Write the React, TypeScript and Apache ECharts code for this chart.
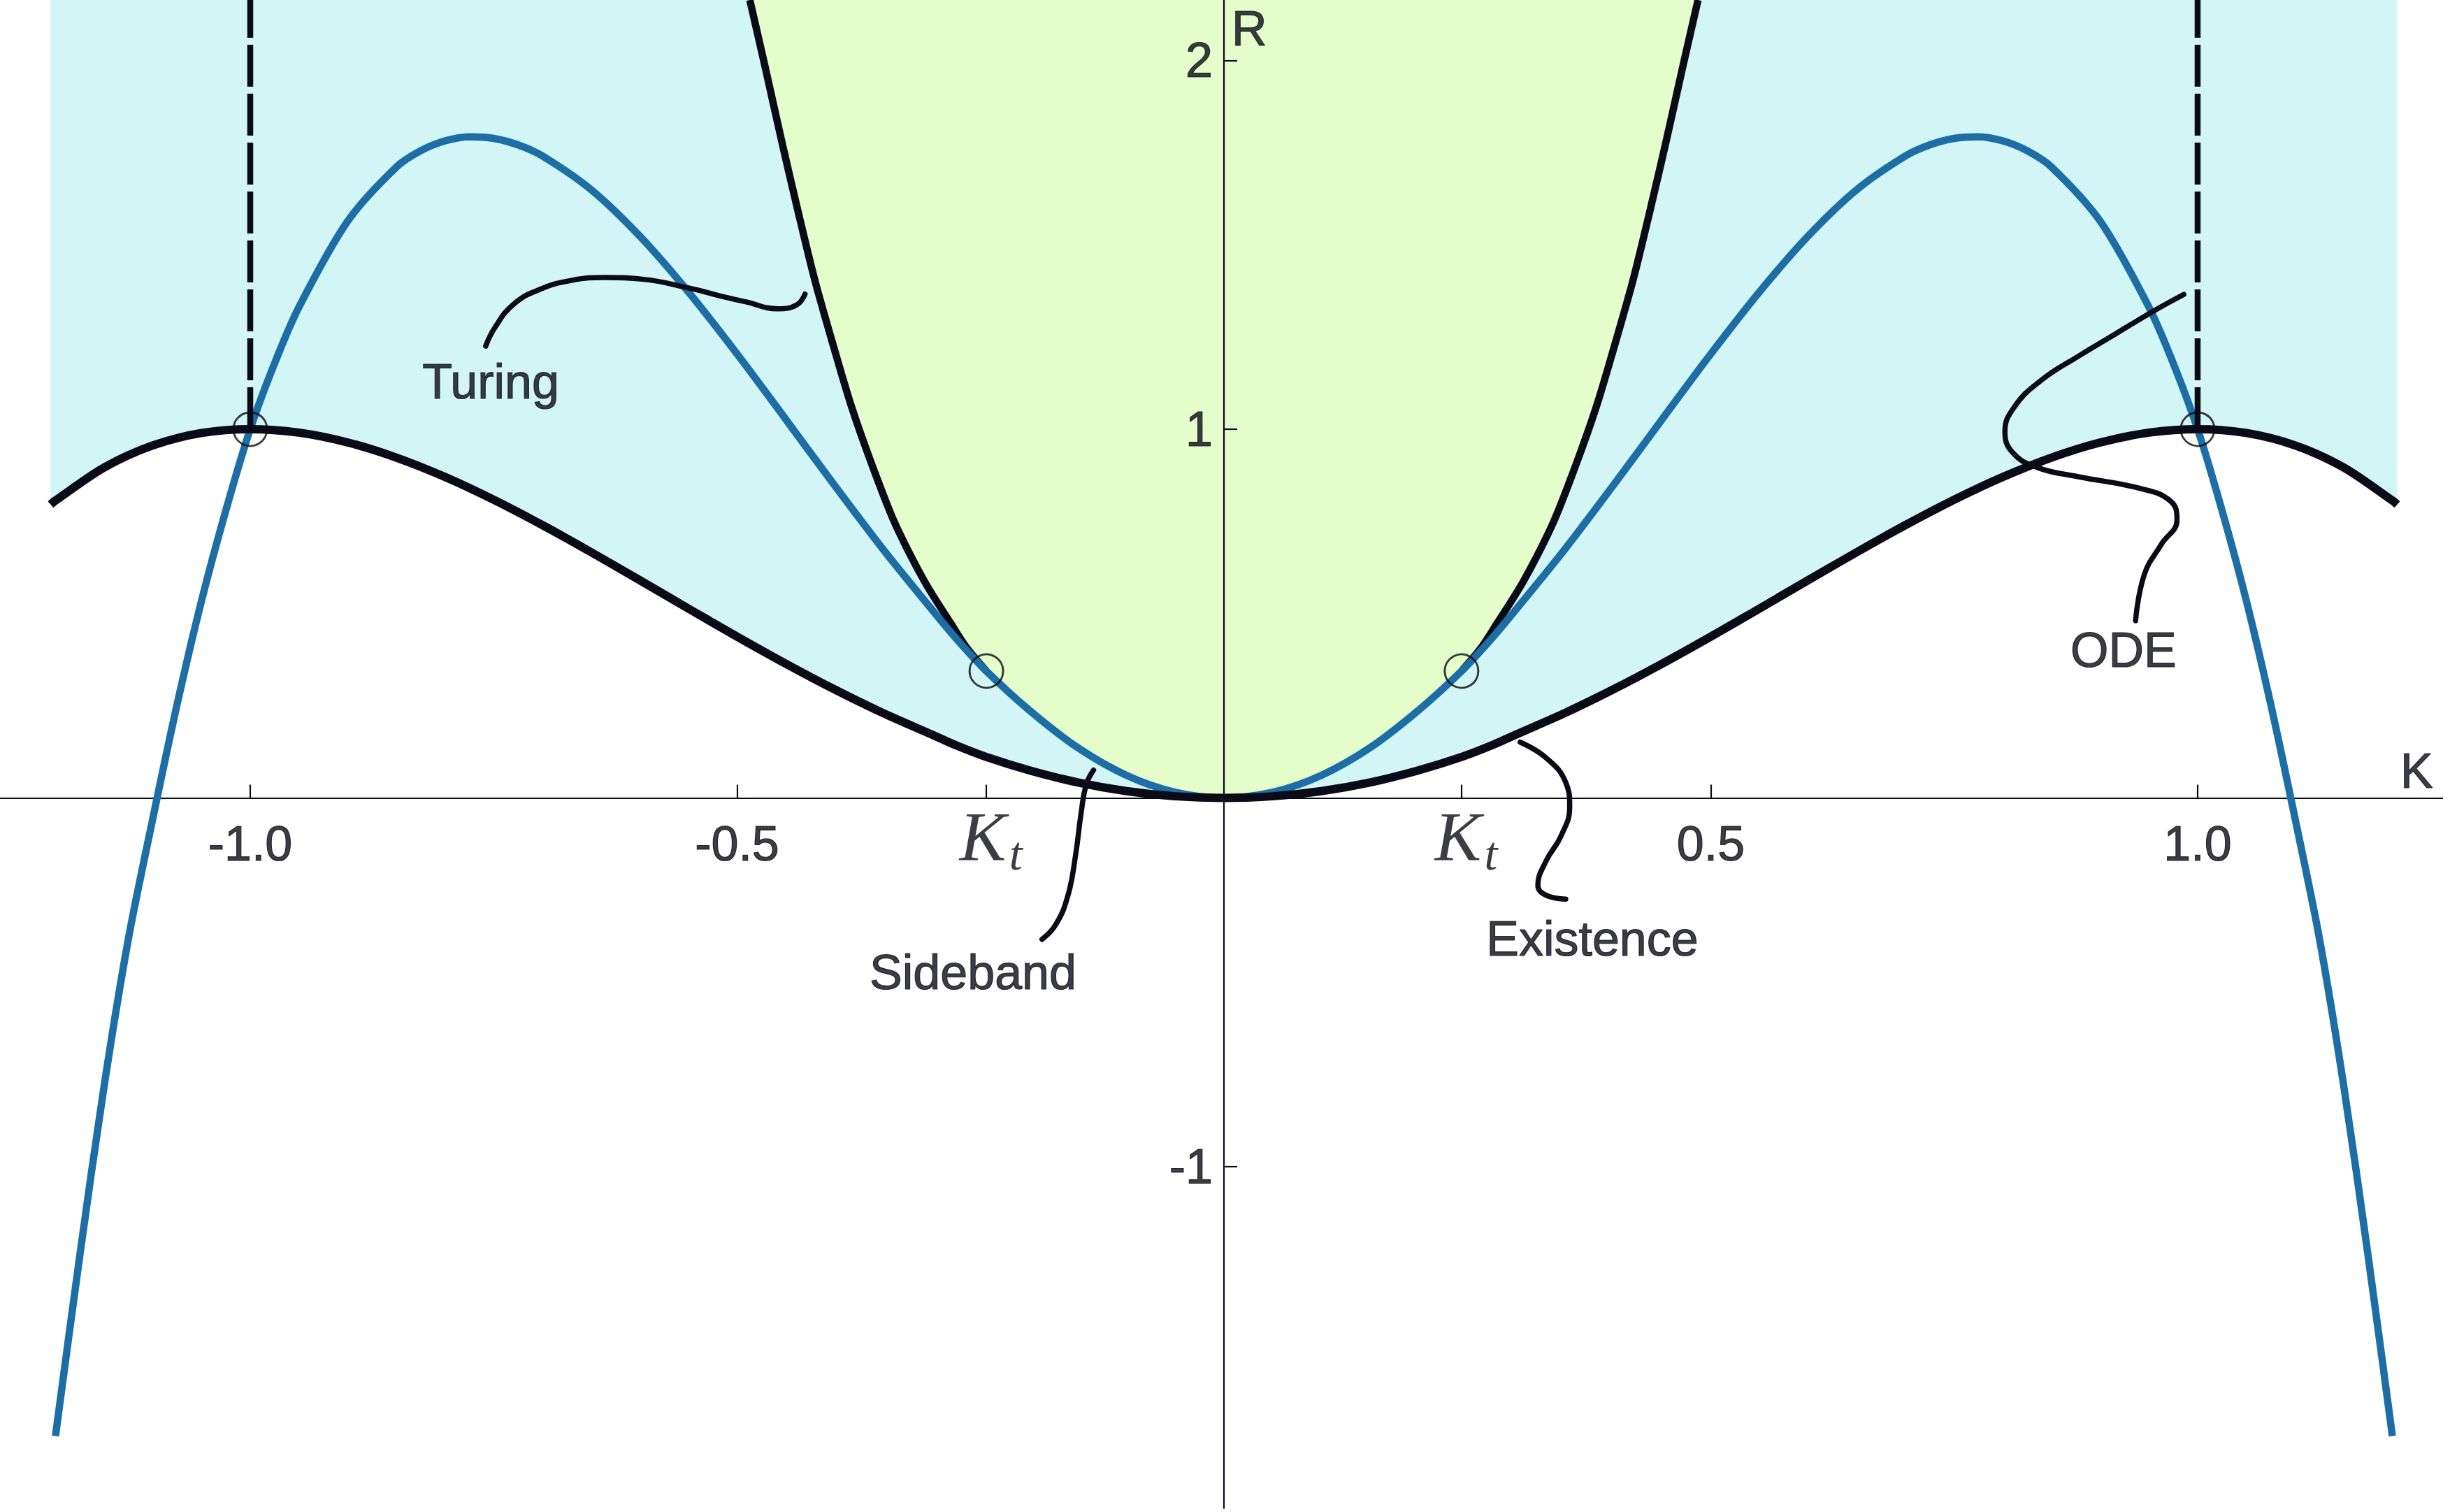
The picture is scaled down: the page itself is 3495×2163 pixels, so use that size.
import React, { useEffect, useRef } from "react";
import * as echarts from "echarts";

// ---- axis ranges (K horizontal, R vertical) ----
const K_MIN = -1.257;
const K_MAX = 1.252;
const R_MIN = -1.9257;
const R_MAX = 2.1636;

// ---- tick values ----
const K_TICKS = [-1, -0.5, -0.244, 0.244, 0.5, 1];
const K_TICK_LABELS = [-1, -0.5, 0.5, 1];
const R_TICK_LABELS = [-1, 1, 2];
const K_T = 0.244;

// ---- Turing curve (right half, symmetric in K) ----
const TURING_K = [0, 0.05, 0.1, 0.15, 0.2, 0.244, 0.275, 0.3, 0.35, 0.4, 0.45, 0.5, 0.55, 0.6, 0.65, 0.7, 0.725, 0.75, 0.775, 0.8, 0.825, 0.85, 0.9, 0.95, 0.975, 1.0, 1.025, 1.05, 1.075, 1.1, 1.125, 1.15, 1.175, 1.2];
const TURING_R = [0, 0.0154, 0.0612, 0.1361, 0.2381, 0.344, 0.4322, 0.5111, 0.674, 0.8478, 1.0267, 1.2039, 1.3721, 1.5235, 1.6495, 1.741, 1.7708, 1.7884, 1.7927, 1.7816, 1.7547, 1.7104, 1.5637, 1.3307, 1.1783, 1.0, 0.78, 0.535, 0.255, -0.055, -0.38, -0.78, -1.24, -1.73];

// ---- Existence curve (right half) ----
const EXIST_K = [0, 0.05, 0.1, 0.15, 0.2, 0.244, 0.275, 0.3, 0.35, 0.4, 0.45, 0.5, 0.55, 0.6, 0.65, 0.7, 0.75, 0.8, 0.85, 0.9, 0.95, 1.0, 1.05, 1.1, 1.15, 1.2, 1.205];
const EXIST_R = [0, 0.0045, 0.0185, 0.042, 0.075, 0.111, 0.1425, 0.1719, 0.23, 0.2944, 0.364, 0.4375, 0.5135, 0.5904, 0.6665, 0.7399, 0.8086, 0.8704, 0.923, 0.9639, 0.9905, 1.0, 0.9895, 0.9559, 0.896, 0.8064, 0.7957];

// ---- Sideband curve (right half, from K_t upward) ----
const SIDE_K = [0.244, 0.264, 0.2795, 0.3075, 0.3378, 0.3612, 0.3822, 0.4, 0.4203, 0.4378, 0.4545, 0.4705, 0.4869];
const SIDE_R = [0.344, 0.4066, 0.4693, 0.5872, 0.7443, 0.9013, 1.0586, 1.2159, 1.4055, 1.5951, 1.7846, 1.974, 2.1636];

// ---- marked points ----
const CIRCLES = [[-1, 1], [1, 1], [-0.244, 0.344], [0.244, 0.344]];
const DASH_LEFT = [[-1, 1], [-1, R_MAX]];
const DASH_RIGHT = [[1, 1], [1, R_MAX]];

// ---- annotation pointers (K, R) ----
const PTR_TURING = [[-0.7582, 1.2252], [-0.7488, 1.2752], [-0.7296, 1.3385], [-0.7021, 1.3794], [-0.6692, 1.4039], [-0.6362, 1.4111], [-0.5977, 1.4066], [-0.5483, 1.3821], [-0.5152, 1.3599], [-0.4913, 1.3454], [-0.4578, 1.3264], [-0.4386, 1.3372], [-0.4302, 1.3662]];
const PTR_ODE = [[0.9363, 0.4807], [0.9452, 0.6054], [0.9626, 0.6871], [0.9788, 0.7534], [0.9723, 0.8046], [0.9394, 0.8402], [0.8775, 0.8709], [0.835, 0.8963], [0.8098, 0.9373], [0.8021, 0.9934], [0.8117, 1.0599], [0.8388, 1.1314], [0.8775, 1.1977], [0.9162, 1.2591], [0.9548, 1.3203], [0.9858, 1.3652]];
const PTR_SIDEBAND = [[-0.1868, -0.3832], [-0.1727, -0.3434], [-0.1601, -0.2636], [-0.1525, -0.1573], [-0.1465, -0.0375], [-0.1415, 0.0354], [-0.1339, 0.0754]];
const PTR_EXIST = [[0.3042, 0.1513], [0.3309, 0.1086], [0.351, 0.0421], [0.3551, -0.0243], [0.346, -0.1041], [0.3309, -0.1706], [0.3224, -0.2371], [0.3309, -0.2636], [0.351, -0.2743]];

// ---- annotation texts ----
const TEXT_NAMES = ["Turing", "Sideband", "Existence", "ODE"];
const TEXT_K = [-0.753, -0.2577, 0.3783, 0.9239];
const TEXT_R = [1.1293, -0.4729, -0.3812, 0.4014];

const INK = "#0b0b17";
const BLUE = "#1e6ea6";
const CYAN = "#d2f5f6";
const GREEN = "#e4fdcb";
const SANS = "'Liberation Sans', Arial, Helvetica, sans-serif";
const SERIF = "'Liberation Serif', 'Times New Roman', serif";

function mirror(ks: number[], rs: number[]): number[][] {
  const pts: number[][] = [];
  for (let i = ks.length - 1; i > 0; i--) pts.push([-ks[i], rs[i]]);
  for (let i = 0; i < ks.length; i++) pts.push([ks[i], rs[i]]);
  return pts;
}

function textItem(value: number[], text: string, extra: any) {
  return {
    value,
    label: {
      show: true,
      position: "inside",
      formatter: text,
      fontSize: 70,
      fontFamily: SANS,
      color: INK,
      textBorderColor: INK,
      textBorderWidth: 1.2,
      align: "center",
      verticalAlign: "middle",
      ...extra,
    },
  };
}

function buildOption() {
  const turing = mirror(TURING_K, TURING_R);
  const exist = mirror(EXIST_K, EXIST_R);
  const sideRight = SIDE_K.map((k, i) => [k, SIDE_R[i]]);
  const sideLeft = SIDE_K.map((k, i) => [-k, SIDE_R[i]]).reverse();

  const inner = turing.filter((p) => Math.abs(p[0]) <= K_T + 1e-9);
  const green = [...sideLeft.slice(0, sideLeft.length - 1), ...inner, ...sideRight.slice(1)];

  const lineBase = {
    type: "line" as const,
    symbol: "none",
    silent: true,
    animation: false,
  };

  const ptr = (data: number[][]) => ({
    ...lineBase,
    data,
    smooth: 0.45,
    z: 7,
    lineStyle: { color: INK, width: 7.5, cap: "round", join: "round" },
  });

  const items: any[] = [];
  TEXT_NAMES.forEach((name, i) => items.push(textItem([TEXT_K[i], TEXT_R[i]], name, {})));
  items.push(textItem([0.0079, 2.0864], "R", { align: "left" }));
  items.push(textItem([1.2082, 0.0735], "K", { align: "left" }));
  K_TICK_LABELS.forEach((k) => items.push(textItem([k, 0], k.toFixed(1), { offset: [0, 65] })));
  R_TICK_LABELS.forEach((r) => items.push(textItem([0, r], String(r), { align: "right", offset: [-16, 0] })));
  [-K_T, K_T].forEach((k) => {
    items.push(textItem([k, 0], "K", { fontSize: 100, fontStyle: "italic", fontFamily: SERIF, textBorderWidth: 0, offset: [-5, 55] }));
    items.push(textItem([k, 0], "t", { fontSize: 68, fontStyle: "italic", fontFamily: SERIF, textBorderWidth: 0, offset: [42, 79] }));
  });

  return {
    animation: false,
    backgroundColor: "#ffffff",
    grid: { left: 0, right: 0, top: 0, bottom: 5.5, containLabel: false, outerBoundsMode: "none" },
    xAxis: {
      type: "value",
      min: K_MIN,
      max: K_MAX,
      z: 3,
      axisLine: { show: true, onZero: true, lineStyle: { color: INK, width: 2.2 } },
      axisTick: {
        show: true,
        inside: true,
        length: 19,
        customValues: K_TICKS,
        lineStyle: { color: INK, width: 2.2 },
      },
      axisLabel: { show: false },
      splitLine: { show: false },
    },
    yAxis: {
      type: "value",
      min: R_MIN,
      max: R_MAX,
      z: 3,
      axisLine: { show: true, onZero: true, lineStyle: { color: INK, width: 2.2 } },
      axisTick: {
        show: true,
        inside: true,
        length: 19,
        customValues: R_TICK_LABELS,
        lineStyle: { color: INK, width: 2.2 },
      },
      axisLabel: { show: false },
      splitLine: { show: false },
    },
    series: [
      {
        ...lineBase,
        name: "existence-fill",
        data: exist,
        smooth: 0.3,
        z: 1,
        lineStyle: { width: 0, opacity: 0 },
        areaStyle: { color: CYAN, opacity: 1, origin: "end" },
      },
      {
        ...lineBase,
        name: "sideband-fill",
        data: green,
        smooth: 0.3,
        z: 2,
        lineStyle: { width: 0, opacity: 0 },
        areaStyle: { color: GREEN, opacity: 1, origin: "end" },
      },
      {
        ...lineBase,
        name: "sideband-left",
        data: sideLeft,
        smooth: 0.3,
        z: 4,
        lineStyle: { color: INK, width: 10.5 },
      },
      {
        ...lineBase,
        name: "sideband-right",
        data: sideRight,
        smooth: 0.3,
        z: 4,
        lineStyle: { color: INK, width: 10.5 },
      },
      {
        ...lineBase,
        name: "turing",
        data: turing,
        smooth: 0.3,
        z: 5,
        lineStyle: { color: BLUE, width: 10.5 },
      },
      {
        ...lineBase,
        name: "existence",
        data: exist,
        smooth: 0.3,
        z: 6,
        lineStyle: { color: INK, width: 12 },
      },
      {
        ...lineBase,
        name: "dash-left",
        data: DASH_LEFT,
        z: 6,
        lineStyle: { color: INK, width: 8.5, type: [60, 10] },
      },
      {
        ...lineBase,
        name: "dash-right",
        data: DASH_RIGHT,
        z: 6,
        lineStyle: { color: INK, width: 8.5, type: [60, 10] },
      },
      ptr(PTR_TURING),
      ptr(PTR_ODE),
      ptr(PTR_SIDEBAND),
      ptr(PTR_EXIST),
      {
        type: "scatter",
        name: "circles",
        data: CIRCLES,
        symbol: "circle",
        symbolSize: 48,
        silent: true,
        z: 8,
        itemStyle: { color: "rgba(0,0,0,0)", borderColor: INK, borderWidth: 3 },
      },
      {
        type: "scatter",
        name: "texts",
        data: items,
        symbol: "circle",
        symbolSize: 1,
        silent: true,
        z: 9,
        itemStyle: { color: "rgba(0,0,0,0)" },
      },
    ],
  };
}

export default function App() {
  const ref = useRef<HTMLDivElement>(null);
  useEffect(() => {
    if (!ref.current) return;
    const chart = echarts.init(ref.current, undefined, { renderer: "svg" });
    chart.setOption(buildOption() as any);
    return () => chart.dispose();
  }, []);
  return (
    <div
      ref={ref}
      style={{ position: "absolute", left: 0, top: 0, width: 3495, height: 2163, background: "#fff" }}
    />
  );
}
